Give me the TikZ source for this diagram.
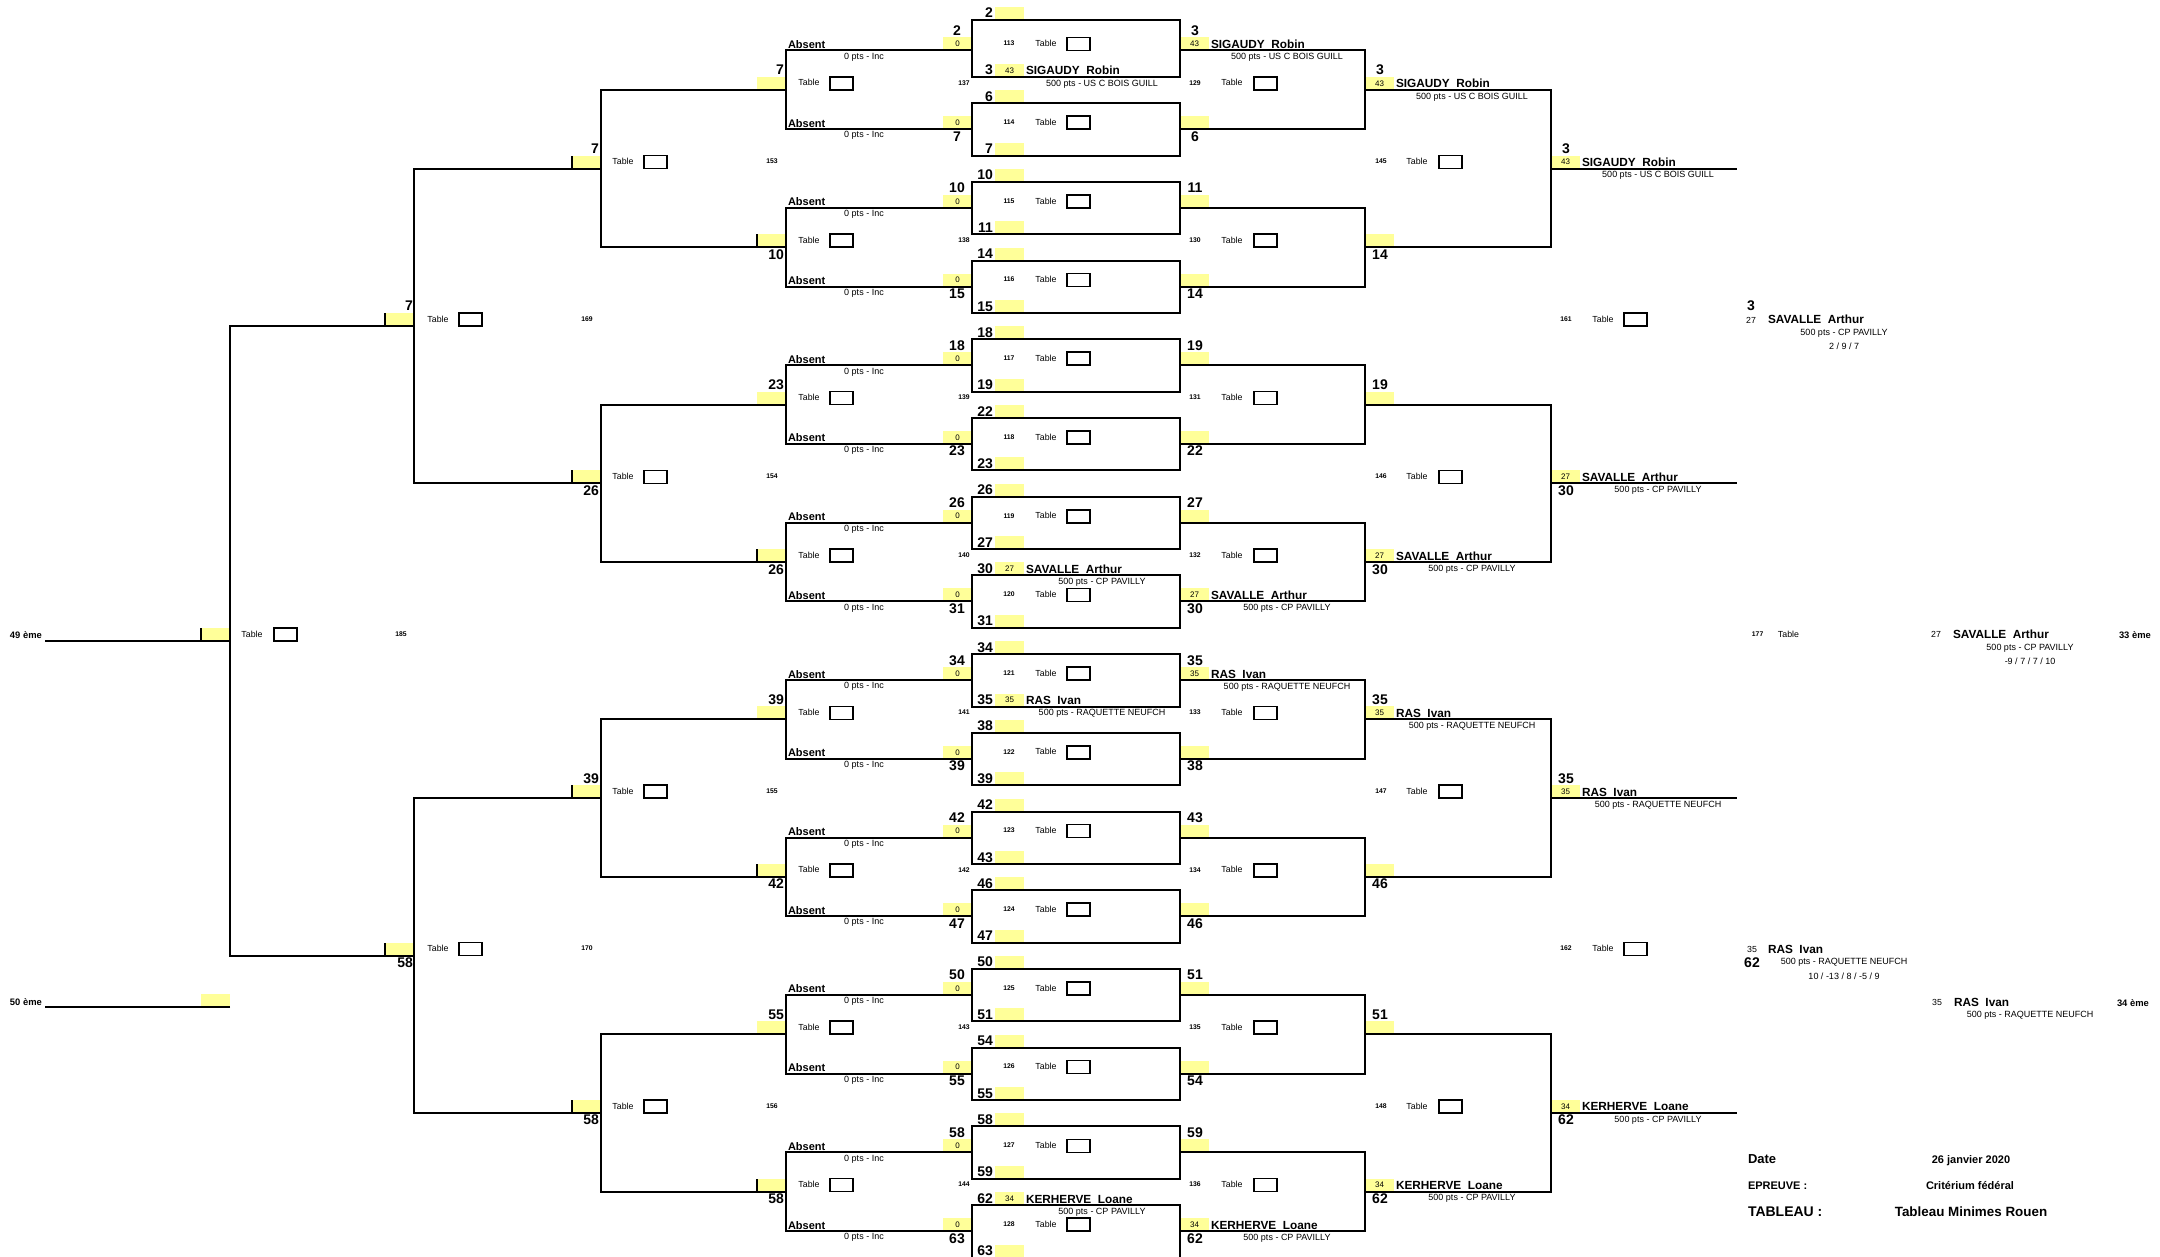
\documentclass[tikz,border=0pt]{standalone}
\usepackage{fontspec}
\setmainfont{Liberation Sans}
\usetikzlibrary{calc}
\definecolor{TabYellow}{RGB}{255,255,153}

% score in the yellow cell, name beside it, club below
\newcommand{\winentry}[4]{%
  \node[score] (#1-s) at (#1) {#2};
  \node[pname] (#1-n) at ([xshift=1pt,yshift=1pt]#1.south east) {#3};
  \node[club] (#1-c) at ([xshift=39pt,yshift=-3.5pt]#1.south east) {#4};}

\begin{document}
\begin{tikzpicture}[x=0.5pt,y=-0.5pt,
    every node/.style={inner sep=0pt,outer sep=0pt},
    lin/.style={line width=1pt},
    ybox/.style={fill=TabYellow,minimum width=14.5pt,minimum height=6.5pt,font=\fontsize{4}{5}\selectfont},
    score/.style={font=\fontsize{4}{5}\selectfont},
    num/.style={font=\bfseries\fontsize{7}{8}\selectfont},
    pname/.style={anchor=base west,font=\bfseries\fontsize{5.9}{7}\selectfont},
    club/.style={font=\fontsize{4.5}{5.5}\selectfont},
    absent/.style={anchor=base west,font=\bfseries\fontsize{5.5}{6.5}\selectfont},
    tabl/.style={font=\fontsize{4.4}{5.5}\selectfont},
    tabbox/.style={draw,line width=0.8pt,minimum width=11.5pt,minimum height=6.5pt,anchor=south west},
    mnum/.style={font=\bfseries\fontsize{3.4}{4}\selectfont},
    rank/.style={anchor=base west,font=\bfseries\fontsize{4.7}{5.5}\selectfont},
    seed/.style={font=\fontsize{4.4}{5.5}\selectfont},
    info/.style={anchor=base west,font=\bfseries\fontsize{5.5}{7}\selectfont},
    infoval/.style={anchor=base,font=\bfseries\fontsize{5.5}{7}\selectfont}
  ]
  \path[use as bounding box,fill=white] (0,0) rectangle (2160,1257);

  % first round boxes
  \foreach \k in {0,...,15}{
    \pgfmathsetmacro\yT{\k==0 ? 20 : 24.5+78.7*\k}
    \pgfmathsetmacro\yB{77+78.7*\k}
    \pgfmathsetmacro\yM{50.5+78.7*\k}
    \pgfmathtruncatemacro\oK{mod(\k,2)}
    \pgfmathtruncatemacro\nT{4*\k+2}
    \pgfmathtruncatemacro\nB{4*\k+3}
    \pgfmathtruncatemacro\nL{4*\k+2+\oK}
    \pgfmathtruncatemacro\nR{4*\k+3-\oK}
    \pgfmathtruncatemacro\mT{113+\k}
    \pgfmathsetmacro\yN{\yM-15+27*\oK}
    \coordinate (tl-\k) at (972,\yT);
    \coordinate (br-\k) at (1180,\yB);
    \coordinate (ml-\k) at (972,\yM);
    \coordinate (mr-\k) at (1180,\yM);
    \node[ybox,anchor=south west] (yt-\k) at (995,\yT) {};
    \node[ybox,anchor=south west] (yb-\k) at (995,\yB) {};
    \node[ybox,anchor=south east] (yl-\k) at (ml-\k) {0};
    \node[ybox,anchor=south west] (yr-\k) at (mr-\k) {};
    \node[num,anchor=base east] (nt-\k) at (993,\yT-2) {\nT};
    \node[num,anchor=base east] (nb-\k) at (993,\yB-2) {\nB};
    \node[num,anchor=base] (nl-\k) at (957,\yN) {\nL};
    \node[num,anchor=base] (nr-\k) at (1195,\yN) {\nR};
    \node[absent] (ab-\k) at (788,\yM-2) {Absent};
    \node[club] (in-\k) at (864,\yM+6.5) {0 pts - Inc};
    \node[mnum] (mt-\k) at (1009,\yM-7) {\mT};
    \node[tabl] (tb-\k) at (1046,\yM-7) {Table};
    \node[tabbox] (tr-\k) at (1067,\yM) {};
  }

  % second level, both sides
  \foreach \j in {0,...,7}{
    \pgfmathsetmacro\yP{89.85+157.4*\j}
    \pgfmathtruncatemacro\oJ{mod(\j,2)}
    \pgfmathtruncatemacro\nL{8*\j+7-5*\oJ}
    \pgfmathtruncatemacro\nR{8*\j+3+3*\oJ}
    \pgfmathtruncatemacro\mL{137+\j}
    \pgfmathtruncatemacro\mR{129+\j}
    \pgfmathsetmacro\yN{\yP-15+27*\oJ}
    \coordinate (l1-\j) at (785.5,\yP);
    \coordinate (r1-\j) at (1365,\yP);
    \node[ybox,anchor=south east] (yl1-\j) at (l1-\j) {};
    \node[ybox,anchor=south west] (yr1-\j) at (r1-\j) {};
    \node[num,anchor=base east] (nl1-\j) at (784,\yN) {\nL};
    \node[num,anchor=base] (nr1-\j) at (1380,\yN) {\nR};
    \node[tabl] (tl1-\j) at (809,\yP-7) {Table};
    \node[tabbox] (bl1-\j) at (830,\yP) {};
    \node[mnum] (ml1-\j) at (964,\yP-7) {\mL};
    \node[mnum] (mr1-\j) at (1195,\yP-7) {\mR};
    \node[tabl] (tr1-\j) at (1232,\yP-7) {Table};
    \node[tabbox] (br1-\j) at (1254,\yP) {};
  }

  % third level
  \foreach \i/\nL/\nR in {0/7/3,1/26/30,2/39/35,3/58/62}{
    \pgfmathsetmacro\yQ{168.55+314.8*\i}
    \pgfmathtruncatemacro\oI{mod(\i,2)}
    \pgfmathsetmacro\yN{\yQ-15+27*\oI}
    \pgfmathtruncatemacro\mL{153+\i}
    \pgfmathtruncatemacro\mR{145+\i}
    \coordinate (l2-\i) at (600.7,\yQ);
    \coordinate (r2-\i) at (1551,\yQ);
    \coordinate (re-\i) at (1737,\yQ);
    \node[ybox,anchor=south east] (yl2-\i) at (l2-\i) {};
    \node[ybox,anchor=south west] (yr2-\i) at (r2-\i) {};
    \node[num,anchor=base east] (nl2-\i) at (599,\yN) {\nL};
    \node[num,anchor=base] (nr2-\i) at (1566,\yN) {\nR};
    \node[tabl] (tl2-\i) at (623,\yQ-7) {Table};
    \node[tabbox] (bl2-\i) at (644,\yQ) {};
    \node[mnum] (ml2-\i) at (772,\yQ-7) {\mL};
    \node[mnum] (mr2-\i) at (1381,\yQ-7) {\mR};
    \node[tabl] (tr2-\i) at (1417,\yQ-7) {Table};
    \node[tabbox] (br2-\i) at (1439,\yQ) {};
  }

  % fourth level and semi-finals
  \foreach \h/\nL/\mL/\mR in {0/7/169/161,1/58/170/162}{
    \pgfmathsetmacro\yH{325.95+629.6*\h}
    \pgfmathsetmacro\yN{\yH-15+27*\h}
    \coordinate (l3-\h) at (414,\yH);
    \node[ybox,anchor=south east] (yl3-\h) at (l3-\h) {};
    \node[num,anchor=base east] (nl3-\h) at (413,\yN) {\nL};
    \node[tabl] (tl3-\h) at (438,\yH-7) {Table};
    \node[tabbox] (bl3-\h) at (459,\yH) {};
    \node[mnum] (ml3-\h) at (587,\yH-7) {\mL};
    \node[mnum] (mr3-\h) at (1566,\yH-7) {\mR};
    \node[tabl] (tr3-\h) at (1603,\yH-7) {Table};
    \node[tabbox] (br3-\h) at (1624,\yH) {};
  }

  % places 49 / 50
  \coordinate (l4) at (230,640.75);
  \coordinate (e49) at (44.6,640.75);
  \coordinate (l50) at (230,1007);
  \coordinate (e50) at (44.6,1007);
  \node[ybox,anchor=south east] (yl4) at (l4) {};
  \node[ybox,anchor=south east] (y50) at (l50) {};
  \node[tabl] (tl4) at (252,634) {Table};
  \node[tabbox] (bl4) at (274,641) {};
  \node[mnum] (ml4) at (401,634) {185};
  \node[rank] (r49) at (10,638.5) {49 ème};
  \node[rank] (r50) at (10,1005) {50 ème};

  % players
  \winentry{yb-0}{43}{SIGAUDY\ \ Robin}{500 pts - US C BOIS GUILL}
  \winentry{yr-0}{43}{SIGAUDY\ \ Robin}{500 pts - US C BOIS GUILL}
  \winentry{yr1-0}{43}{SIGAUDY\ \ Robin}{500 pts - US C BOIS GUILL}
  \winentry{yr2-0}{43}{SIGAUDY\ \ Robin}{500 pts - US C BOIS GUILL}
  \winentry{yt-7}{27}{SAVALLE\ \ Arthur}{500 pts - CP PAVILLY}
  \winentry{yr-7}{27}{SAVALLE\ \ Arthur}{500 pts - CP PAVILLY}
  \winentry{yr1-3}{27}{SAVALLE\ \ Arthur}{500 pts - CP PAVILLY}
  \winentry{yr2-1}{27}{SAVALLE\ \ Arthur}{500 pts - CP PAVILLY}
  \winentry{yb-8}{35}{RAS\ \ Ivan}{500 pts - RAQUETTE NEUFCH}
  \winentry{yr-8}{35}{RAS\ \ Ivan}{500 pts - RAQUETTE NEUFCH}
  \winentry{yr1-4}{35}{RAS\ \ Ivan}{500 pts - RAQUETTE NEUFCH}
  \winentry{yr2-2}{35}{RAS\ \ Ivan}{500 pts - RAQUETTE NEUFCH}
  \winentry{yt-15}{34}{KERHERVE\ \ Loane}{500 pts - CP PAVILLY}
  \winentry{yr-15}{34}{KERHERVE\ \ Loane}{500 pts - CP PAVILLY}
  \winentry{yr1-7}{34}{KERHERVE\ \ Loane}{500 pts - CP PAVILLY}
  \winentry{yr2-3}{34}{KERHERVE\ \ Loane}{500 pts - CP PAVILLY}

  % semi-finals and final, text only
  \node[num,anchor=base] (s1-n) at (1751,311) {3};
  \node[seed] (s1-s) at (1751,320) {27};
  \node[pname] (s1-p) at (1768,324) {SAVALLE\ \ Arthur};
  \node[club] (s1-c) at (1844,333) {500 pts - CP PAVILLY};
  \node[club] (s1-r) at (1844,346) {2 / 9 / 7};
  \node[seed] (s2-s) at (1752,949) {35};
  \node[pname] (s2-p) at (1768,953) {RAS\ \ Ivan};
  \node[num,anchor=base] (s2-n) at (1752,967) {62};
  \node[club] (s2-c) at (1844,962) {500 pts - RAQUETTE NEUFCH};
  \node[club] (s2-r) at (1844,976) {10 / -13 / 8 / -5 / 9};
  \node[mnum] (f-m) at (1757.6,634) {177};
  \node[tabl] (f-t) at (1788.5,634) {Table};
  \node[seed] (f1-s) at (1936,634) {27};
  \node[pname] (f1-p) at (1953,638) {SAVALLE\ \ Arthur};
  \node[rank] (f1-r) at (2119,638) {33 ème};
  \node[club] (f1-c) at (2030,648) {500 pts - CP PAVILLY};
  \node[club] (f1-x) at (2030,661) {-9 / 7 / 7 / 10};
  \node[seed] (f2-s) at (1937,1002) {35};
  \node[pname] (f2-p) at (1954,1006) {RAS\ \ Ivan};
  \node[rank] (f2-r) at (2117,1006) {34 ème};
  \node[club] (f2-c) at (2030,1015) {500 pts - RAQUETTE NEUFCH};

  % header block
  \node[info,font=\bfseries\fontsize{6.5}{8}\selectfont] (d-k) at (1748,1163) {Date};
  \node[infoval] (d-v) at (1971,1163) {26 janvier 2020};
  \node[info] (e-k) at (1748,1189) {EPREUVE :};
  \node[infoval] (e-v) at (1970,1189) {Critérium fédéral};
  \node[info,font=\bfseries\fontsize{7}{8.5}\selectfont] (t-k) at (1748,1216) {TABLEAU :};
  \node[infoval,font=\bfseries\fontsize{6.7}{8}\selectfont] (t-v) at (1971,1216) {Tableau Minimes Rouen};

  % bracket lines
  \foreach \k in {0,...,15} \draw[lin] (tl-\k) rectangle (br-\k);
  \foreach \j in {0,...,7}{
    \pgfmathtruncatemacro\ka{2*\j}
    \pgfmathtruncatemacro\kb{2*\j+1}
    \draw[lin] (ml-\ka) -| (l1-\j) |- (ml-\kb);
    \draw[lin] (mr-\ka) -| (r1-\j) |- (mr-\kb);
  }
  \foreach \i in {0,...,3}{
    \pgfmathtruncatemacro\ja{2*\i}
    \pgfmathtruncatemacro\jb{2*\i+1}
    \draw[lin] (l1-\ja) -| (l2-\i) |- (l1-\jb);
    \draw[lin] (r1-\ja) -| (r2-\i) |- (r1-\jb);
    \draw[lin] (r2-\i) -- (re-\i);
  }
  \foreach \h in {0,1}{
    \pgfmathtruncatemacro\ia{2*\h}
    \pgfmathtruncatemacro\ib{2*\h+1}
    \draw[lin] (l2-\ia) -| (l3-\h) |- (l2-\ib);
  }
  \draw[lin] (l3-0) -| (l4) |- (l3-1);
  \draw[lin] (l4) -- (e49);
  \draw[lin] (l50) -- (e50);
  \foreach \n in {yl1-1,yl1-3,yl1-5,yl1-7,yl2-0,yl2-1,yl2-2,yl2-3,yl3-0,yl3-1,yl4}
    \draw[lin] (\n.south west) -- (\n.north west);
\end{tikzpicture}
\end{document}
